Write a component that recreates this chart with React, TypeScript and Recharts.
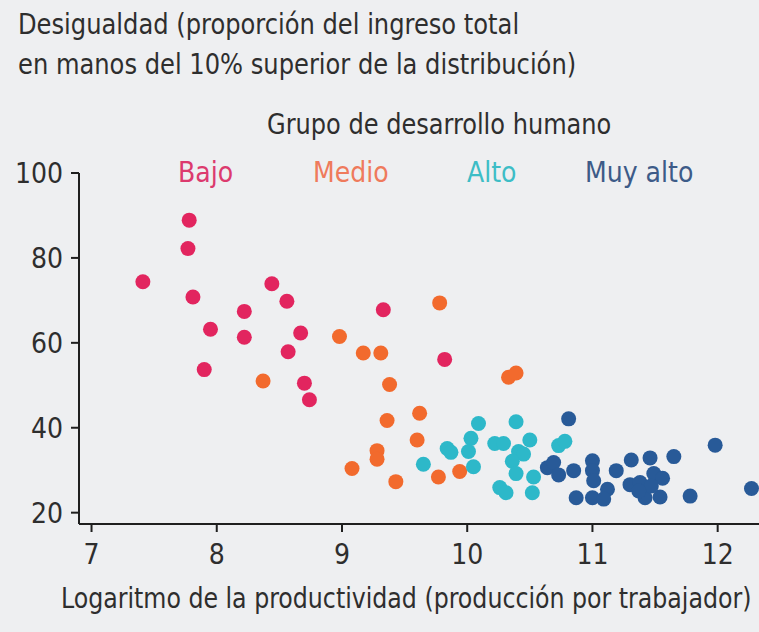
import React from 'react'
import {Scatter, ScatterChart, XAxis, YAxis} from 'recharts'

type Point = {x: number, y: number}

const bajo: Point[] = [
    {x: 7.41, y: 74.4}, {x: 7.78, y: 88.9}, {x: 7.77, y: 82.2}, {x: 7.81, y: 70.8},
    {x: 7.95, y: 63.2}, {x: 7.90, y: 53.7}, {x: 8.22, y: 67.4}, {x: 8.22, y: 61.3},
    {x: 8.44, y: 73.9}, {x: 8.56, y: 69.8}, {x: 8.67, y: 62.3}, {x: 8.57, y: 57.9},
    {x: 8.70, y: 50.5}, {x: 8.74, y: 46.6}, {x: 9.33, y: 67.8}, {x: 9.82, y: 56.1},
]

const medio: Point[] = [
    {x: 8.37, y: 51.0}, {x: 8.98, y: 61.5}, {x: 9.17, y: 57.6}, {x: 9.31, y: 57.6},
    {x: 9.38, y: 50.2}, {x: 9.78, y: 69.4}, {x: 9.36, y: 41.7}, {x: 9.62, y: 43.4},
    {x: 9.60, y: 37.1}, {x: 9.28, y: 34.6}, {x: 9.28, y: 32.6}, {x: 9.08, y: 30.4},
    {x: 9.43, y: 27.3}, {x: 9.77, y: 28.4}, {x: 9.94, y: 29.7}, {x: 10.33, y: 51.9},
    {x: 10.39, y: 52.9},
]

const alto: Point[] = [
    {x: 9.65, y: 31.4}, {x: 9.84, y: 35.1}, {x: 9.87, y: 34.2}, {x: 10.03, y: 37.5},
    {x: 10.01, y: 34.4}, {x: 10.05, y: 30.8}, {x: 10.09, y: 41.0}, {x: 10.22, y: 36.3},
    {x: 10.29, y: 36.3}, {x: 10.39, y: 41.4}, {x: 10.50, y: 37.1}, {x: 10.41, y: 34.4},
    {x: 10.45, y: 33.8}, {x: 10.36, y: 32.1}, {x: 10.39, y: 29.2}, {x: 10.26, y: 25.9},
    {x: 10.31, y: 24.7}, {x: 10.52, y: 24.7}, {x: 10.53, y: 28.4}, {x: 10.73, y: 35.8},
    {x: 10.78, y: 36.8},
]

const muyAlto: Point[] = [
    {x: 10.81, y: 42.1}, {x: 10.64, y: 30.6}, {x: 10.69, y: 31.8}, {x: 10.73, y: 28.9},
    {x: 10.85, y: 29.9}, {x: 10.87, y: 23.5}, {x: 11.00, y: 32.2}, {x: 11.00, y: 29.9},
    {x: 11.01, y: 27.5}, {x: 11.00, y: 23.5}, {x: 11.12, y: 25.5}, {x: 11.09, y: 23.2},
    {x: 11.19, y: 29.9}, {x: 11.31, y: 32.4}, {x: 11.46, y: 32.9}, {x: 11.65, y: 33.2},
    {x: 11.98, y: 35.9}, {x: 12.27, y: 25.7}, {x: 11.30, y: 26.6}, {x: 11.38, y: 27.1},
    {x: 11.49, y: 29.2}, {x: 11.56, y: 28.1}, {x: 11.42, y: 23.5}, {x: 11.54, y: 23.7},
    {x: 11.78, y: 23.9}, {x: 11.47, y: 26.3}, {x: 11.37, y: 25.1},
]

const xTicks = [7, 8, 9, 10, 11, 12]
const yTicks = [20, 40, 60, 80, 100]

const groups = ['Bajo', 'Medio', 'Alto', 'Muy alto']
const titleLines = [
    'Desigualdad (proporción del ingreso total',
    'en manos del 10% superior de la distribución)',
]
const legendTitle = 'Grupo de desarrollo humano'
const xLabel = 'Logaritmo de la productividad (producción por trabajador)'

const FONT = '"DejaVu Sans Condensed", "Liberation Sans Narrow", sans-serif'
const TEXT = '#2e2e2e'

const dotColors = ['#e2255f', '#f26a2d', '#2db8c9', '#285a98']
// legend text is a bit lighter than the dots
const legendColors = ['#dc3a6e', '#ef7a5c', '#3dbdc6', '#3d5b88']
const legendLefts = [178, 313, 467, 585]

const dot = (fill: string) => (props: any) => (
    <circle cx={props.cx} cy={props.cy} r={7.5} fill={fill} />
)

const text = (left: number, top: number, value: string, squeeze = 1, color = TEXT) => (
    <div key={value} style={{
        position: 'absolute', left, top, fontFamily: FONT, fontSize: 28, lineHeight: '28px',
        color, whiteSpace: 'nowrap', transform: `scaleX(${squeeze})`, transformOrigin: 'left top',
    }}>
        {value}
    </div>
)

export default function App() {
    const series = [bajo, medio, alto, muyAlto]
    return (
        <div style={{position: 'absolute', left: 0, top: 0, width: 759, height: 632, background: '#eeeff1', overflow: 'hidden'}}>
            {text(18, 11, titleLines[0], 0.96)}
            {text(18, 51, titleLines[1], 0.96)}
            {text(267, 111, legendTitle, 0.955)}
            {groups.map((g, i) => text(legendLefts[i], 159, g, 1, legendColors[i]))}
            {text(61, 585, xLabel, 0.94)}
            <ScatterChart width={759} height={632} margin={{top: 173, right: 0, bottom: 0, left: 0}} style={{position: 'absolute', left: 0, top: 0}}>
                <XAxis
                    type="number"
                    dataKey="x"
                    domain={[6.9, 12.33]}
                    ticks={xTicks}
                    allowDataOverflow
                    height={108}
                    tickSize={8}
                    tickMargin={12}
                    axisLine={{stroke: '#1f1f1f', strokeWidth: 2}}
                    tickLine={{stroke: '#1f1f1f', strokeWidth: 2}}
                    tick={{fill: TEXT, fontSize: 28, fontFamily: FONT}}
                />
                <YAxis
                    type="number"
                    dataKey="y"
                    domain={[17.33, 100]}
                    ticks={yTicks}
                    allowDataOverflow
                    width={79}
                    tickSize={8}
                    tickMargin={8}
                    axisLine={{stroke: '#1f1f1f', strokeWidth: 2}}
                    tickLine={{stroke: '#1f1f1f', strokeWidth: 2}}
                    tick={{fill: TEXT, fontSize: 28, fontFamily: FONT}}
                />
                {series.map((data, i) => (
                    <Scatter key={groups[i]} name={groups[i]} data={data} fill={dotColors[i]} shape={dot(dotColors[i])} isAnimationActive={false} />
                ))}
            </ScatterChart>
        </div>
    )
}
